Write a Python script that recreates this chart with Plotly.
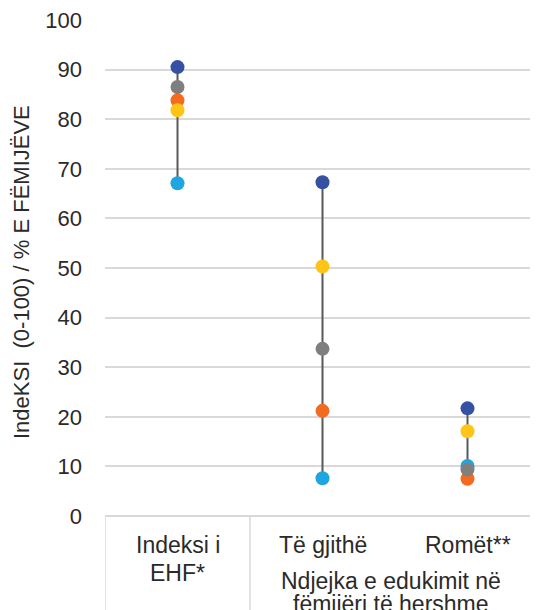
import plotly.graph_objects as go

categories = ["Indeksi i EHF*", "Të gjithë", "Romët**"]
y_title = "IndeKSI  (0-100) / % E FËMIJËVE"
group_lines = ["Ndjejka e edukimit në", "fëmijëri të hershme"]

# series values per category
light_blue = [67.1, 7.6, 10.1]
orange = [83.8, 21.2, 7.5]
yellow = [81.8, 50.3, 17.1]
gray = [86.5, 33.7, 9.4]
dark_blue = [90.5, 67.3, 21.7]

series = [
    ("Seria 1", light_blue, "#1EA6E0"),
    ("Seria 2", orange, "#F26B21"),
    ("Seria 3", yellow, "#FFC516"),
    ("Seria 4", gray, "#7F7F7F"),
    ("Seria 5", dark_blue, "#3651A3"),
]

# page has an 8px body margin, so the figure starts at (8, 8)
OFF = 8
W, H = 538, 610
plot_left, plot_right = 105, 540      # page pixels
plot_top, plot_bottom = 20, 516
L = plot_left - OFF
T = plot_top - OFF
R = W - (plot_right - OFF)
B = H - (plot_bottom - OFF)
plot_w = plot_right - plot_left
plot_h = plot_bottom - plot_top

def py(pix):
    # page pixel row -> paper y
    return (plot_bottom - pix) / plot_h

def px(pix):
    # page pixel column -> paper x
    return (pix - plot_left) / plot_w

fig = go.Figure()

# range line per category
all_vals = [light_blue, orange, yellow, gray, dark_blue]
lx, ly = [], []
for i, c in enumerate(categories):
    vals = [s[i] for s in all_vals]
    lx += [c, c, None]
    ly += [min(vals), max(vals), None]
fig.add_trace(go.Scatter(x=lx, y=ly, mode="lines",
                         line=dict(color="#595959", width=2),
                         showlegend=False, hoverinfo="skip"))

for name, vals, col in series:
    fig.add_trace(go.Scatter(x=categories, y=vals, mode="markers", name=name,
                             marker=dict(color=col, size=14, line=dict(width=0)),
                             showlegend=False))

font = "Liberation Sans, Arial, sans-serif"
tcol = "#2a2a2a"

fig.update_layout(
    width=W, height=H,
    margin=dict(l=L, r=R, t=T, b=B, autoexpand=False),
    plot_bgcolor="white", paper_bgcolor="white",
    font=dict(family=font, size=22, color=tcol),
    showlegend=False,
)
fig.update_xaxes(type="category", range=[-0.5, 2.5], showticklabels=False,
                 showgrid=False, zeroline=False, showline=False, automargin=False)
fig.update_yaxes(range=[0, 100], tickvals=list(range(0, 101, 10)),
                 showgrid=True, gridcolor="#D9D9D9", gridwidth=1.5,
                 zeroline=True, zerolinecolor="#D9D9D9", zerolinewidth=1.5,
                 showline=False, ticklabelstandoff=22, automargin=False,
                 ticklabeloverflow="allow",
                 tickfont=dict(size=22, color=tcol))

def label(text, x, y, size=23, xref="paper"):
    fig.add_annotation(text=text, x=x, xref=xref, yref="paper", y=y,
                       xanchor="center", yanchor="middle", showarrow=False,
                       borderpad=0, font=dict(size=size, color=tcol))

# y-axis title
fig.add_annotation(text=y_title, textangle=-90,
                   xref="paper", yref="paper", x=px(21), y=py(272),
                   xanchor="center", yanchor="middle", showarrow=False,
                   borderpad=0, font=dict(size=22, color=tcol))

# category labels
label("Indeksi i", categories[0], py(545), xref="x")
label("EHF*", categories[0], py(573), xref="x")
label(categories[1], categories[1], py(545), xref="x")
label(categories[2], categories[2], py(545), xref="x")
label(group_lines[0], px(391), py(581))
label(group_lines[1], px(391), py(604))

# separators below the axis
for xs in [-0.5, 0.5]:
    fig.add_shape(type="line", xref="x", yref="paper", x0=xs, x1=xs,
                  y0=0, y1=py(612), line=dict(color="#D9D9D9", width=1.5))

fig.write_html("out.html")
